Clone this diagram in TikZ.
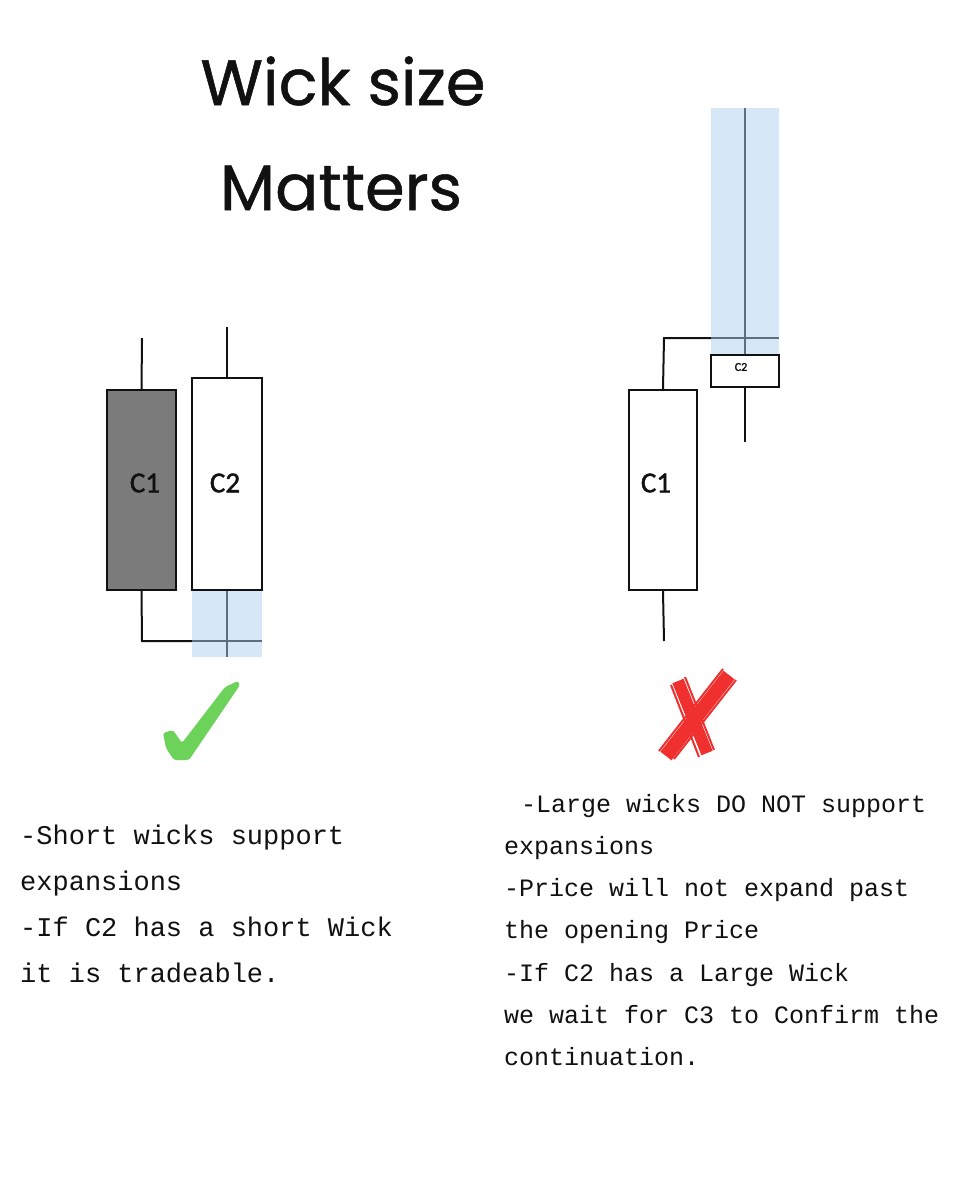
\documentclass[tikz,border=0pt]{standalone}
\usepackage{fontspec}
\usepackage{tikz}
\usetikzlibrary{positioning}
\newfontfamily\titlefont[FakeBold=0.8]{Poppins}
\newfontfamily\notefont{Liberation Mono}
\newfontfamily\candlefont[FakeBold=1.5]{Carlito}
\definecolor{wkink}{HTML}{111111}
\definecolor{wkbear}{HTML}{7B7B7B}
\definecolor{wkshade}{HTML}{D6E8F8}
\definecolor{wkslate}{HTML}{5E6E7C}
\definecolor{wkgreen}{HTML}{6CD25A}
\definecolor{wkred}{HTML}{F0302E}
\tikzset{
  wkbody/.style={
    draw=wkink, line width=2.4pt, inner sep=0pt, minimum width=69pt},
  wkwick/.style={draw=wkink, line width=2pt},
  wkwickin/.style={draw=wkslate, line width=2pt},
  wklabel/.style={font=\candlefont\fontsize{29}{29}\selectfont, text=wkink,
    inner sep=0pt},
  wktitle/.style={anchor=base, font=\titlefont\fontsize{64}{64}\selectfont,
    text=wkink, inner sep=0pt},
  wknoteL/.style={anchor=base west, inner sep=0pt, text=wkink,
    font=\notefont\fontsize{27}{27}\selectfont},
  wknoteR/.style={anchor=base west, inner sep=0pt, text=wkink,
    font=\notefont\fontsize{25}{25}\selectfont},
  every picture/.style={line cap=butt},
}
\begin{document}
\begin{tikzpicture}[x=1pt, y=-1pt]
\useasboundingbox[fill=white] (0, 0) rectangle (960, 1200);

% Header.
\node[wktitle] (head1) at (343, 105) {Wick size};
\node[wktitle] (head2) at (341, 210) {Matters};

% Left pair: short wick on C2.
\fill[wkshade] (192, 590) rectangle (262, 657);
\coordinate (l1top) at (142, 338);
\coordinate (l1low) at (142, 641);
\coordinate (l1end) at (262, 641);
\coordinate (lshade) at (192, 641);
\coordinate (l2top) at (227, 327);
\coordinate (l2low) at (227, 657);
\node[wkbody, fill=wkbear, minimum height=200pt] (lc1) at (141.5, 490) {};
\node[wkbody, fill=white, minimum height=212pt, minimum width=70pt]
  (lc2) at (227, 484) {};
\draw[wkwick] (lc1.north) -- (l1top);
\draw[wkwick] (lc1.south) -- (l1low) -- (lshade);
\draw[wkwickin] (lshade) -- (l1end);
\draw[wkwick] (lc2.north) -- (l2top);
\draw[wkwickin] (lc2.south) -- (l2low);
\node[wklabel] (lc1t) at (145, 483) {C1};
\node[wklabel] (lc2t) at (225, 483) {C2};

% Right pair: large wick on C2.
\fill[wkshade] (711, 108) rectangle (779, 355);
\coordinate (r1top) at (664, 338);
\coordinate (rshade) at (711, 338);
\coordinate (r1end) at (779, 338);
\coordinate (r1low) at (664, 641);
\coordinate (r2top) at (745, 108);
\coordinate (r2low) at (745, 442);
\node[wkbody, fill=white, minimum height=200pt, minimum width=68pt]
  (rc1) at (663, 490) {};
\node[wkbody, fill=white, minimum height=32pt, minimum width=68pt]
  (rc2) at (745, 371) {};
\draw[wkwick] (rc1.north) -- (r1top) -- (rshade);
\draw[wkwickin] (rshade) -- (r1end);
\draw[wkwick] (rc1.south) -- (r1low);
\draw[wkwickin] (rc2.north) -- (r2top);
\draw[wkwick] (rc2.south) -- (r2low);
\node[wklabel] (rc1t) at (656, 483) {C1};
\node[wklabel, font=\candlefont\fontsize{12}{12}\selectfont]
  (rc2t) at (741, 367) {C2};

% Verdict marks.
\fill[wkgreen, rounded corners=2.5pt] (163, 733) -- (173, 730)
  -- (182, 743) -- (225, 687) -- (238, 681) -- (240, 685) -- (189, 760)
  -- (174, 760) -- (166, 748) -- cycle;
\begin{scope}[wkred]
  \draw[line width=12pt] (678, 681) -- (707, 753);
  \draw[line width=2pt] (671, 685) -- (699, 757);
  \draw[line width=2pt] (685, 677) -- (714, 750);
  \draw[line width=14pt] (729, 675) -- (666, 756);
  \draw[line width=2pt] (723, 669) -- (659, 751);
  \draw[line width=2pt] (736, 680) -- (674, 759);
\end{scope}

% Notes under each pair.
\foreach \i/\txt in {0/-Short wicks support, 1/expansions,
    2/-If C2 has a short Wick, 3/it is tradeable.} {
  \node[wknoteL] (nl\i) at (20, 844 + \i * 46.3) {\txt};
}
\node[wknoteR] (nr0) at (521, 812) {-Large wicks DO NOT support};
\foreach \i/\txt in {1/expansions, 2/-Price will not expand past,
    3/the opening Price, 4/-If C2 has a Large Wick,
    5/we wait for C3 to Confirm the, 6/continuation.} {
  \node[wknoteR] (nr\i) at (504, 812 + \i * 42.3) {\txt};
}

\end{tikzpicture}
\end{document}
